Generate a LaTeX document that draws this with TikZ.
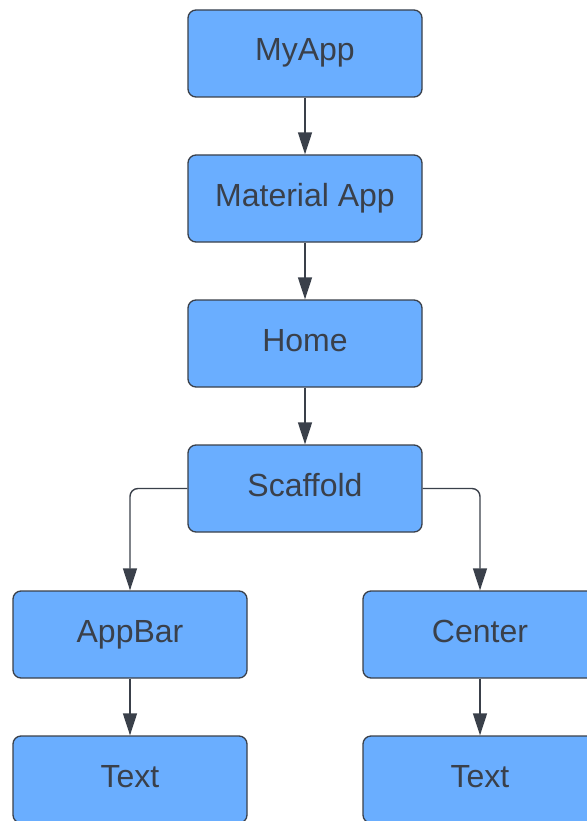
\documentclass[tikz,border=0pt]{standalone}
\usepackage{fontspec}
\setmainfont{Liberation Sans}
\usetikzlibrary{arrows.meta}
\definecolor{boxblue}{RGB}{106,174,255}
\definecolor{edge}{RGB}{58,64,74}
\begin{document}
\begin{tikzpicture}[x=1pt, y=-1pt,
  widget/.style={draw=edge, line width=1.3pt, fill=boxblue, rounded corners=8pt,
    minimum width=234pt, minimum height=87pt, font=\fontsize{32}{38}\selectfont, text=edge,
    text height=23pt, text depth=8pt},
  link/.style={draw=edge, line width=1.4pt, rounded corners=8pt, -{Triangle[length=22pt,width=14pt]}}]
  \useasboundingbox (0,0) rectangle (586,821);
  \node[widget] (myapp)    at (305,53.5)  {MyApp};
  \node[widget] (material) at (305,198.5) {Material App};
  \node[widget] (home)     at (305,343.5) {Home};
  \node[widget] (scaffold) at (305,488.5) {Scaffold};
  \node[widget] (appbar)   at (130,634.5) {AppBar};
  \node[widget] (center)   at (480,634.5) {Center};
  \node[widget] (text1)    at (130,779.5) {Text};
  \node[widget] (text2)    at (480,779.5) {Text};
  \draw[link] (myapp) -- (material);
  \draw[link] (material) -- (home);
  \draw[link] (home) -- (scaffold);
  \draw[link] (scaffold.west) -| (appbar.north);
  \draw[link] (scaffold.east) -| (center.north);
  \draw[link] (appbar) -- (text1);
  \draw[link] (center) -- (text2);
\end{tikzpicture}
\end{document}
